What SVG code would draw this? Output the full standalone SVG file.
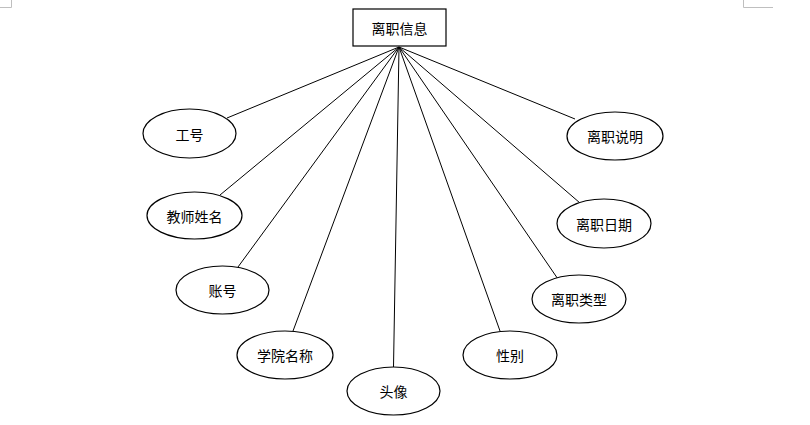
<svg xmlns="http://www.w3.org/2000/svg" width="810" height="425" viewBox="0 0 810 425">
<style>
.node{fill:#fff;stroke:#000;stroke-width:1.2}
.lbl{font-family:"Noto Sans CJK SC","Liberation Sans",sans-serif;font-size:14px;fill:#000;text-anchor:middle;dominant-baseline:central}
.conn line{stroke:#000;stroke-width:1}
.mark{stroke:#bfbfbf;stroke-width:1;fill:none}
</style>
<rect width="810" height="425" fill="#fff"/>
<path class="mark" d="M11.5 0V7.5H0"/>
<path class="mark" d="M743.5 0V7.5H773"/>
<g id="connectors" class="conn">
<line x1="399" y1="47" x2="227" y2="118"/>
<line x1="399" y1="47" x2="220" y2="195"/>
<line x1="399" y1="47" x2="238" y2="267"/>
<line x1="399" y1="47" x2="293" y2="331"/>
<line x1="399" y1="47" x2="393.5" y2="367"/>
<line x1="399" y1="47" x2="500" y2="331"/>
<line x1="399" y1="47" x2="560" y2="282"/>
<line x1="399" y1="47" x2="580" y2="203"/>
<line x1="399" y1="47" x2="575" y2="119"/>
</g>
<g id="n-main"><rect class="node" x="353" y="9" width="93" height="37"/><text class="lbl" x="399.5" y="27.5">离职信息</text></g>
<g id="n-gonghao"><ellipse class="node" cx="189.5" cy="133.5" rx="46.5" ry="24.5"/><text class="lbl" x="189.5" y="133.5">工号</text></g>
<g id="n-xingming"><ellipse class="node" cx="194.5" cy="215.5" rx="47.5" ry="23.5"/><text class="lbl" x="194.5" y="215.5">教师姓名</text></g>
<g id="n-zhanghao"><ellipse class="node" cx="222.5" cy="290" rx="46.5" ry="24"/><text class="lbl" x="222.5" y="290">账号</text></g>
<g id="n-xueyuan"><ellipse class="node" cx="285" cy="355" rx="48" ry="24"/><text class="lbl" x="285" y="355">学院名称</text></g>
<g id="n-touxiang"><ellipse class="node" cx="393.5" cy="391" rx="46.5" ry="24"/><text class="lbl" x="393.5" y="391">头像</text></g>
<g id="n-xingbie"><ellipse class="node" cx="510" cy="355" rx="47" ry="24"/><text class="lbl" x="510" y="355">性别</text></g>
<g id="n-leixing"><ellipse class="node" cx="579" cy="299" rx="47" ry="24"/><text class="lbl" x="579" y="299">离职类型</text></g>
<g id="n-riqi"><ellipse class="node" cx="604" cy="223.5" rx="47" ry="24.5"/><text class="lbl" x="604" y="223.5">离职日期</text></g>
<g id="n-shuoming"><ellipse class="node" cx="615" cy="136" rx="48" ry="24"/><text class="lbl" x="615" y="136">离职说明</text></g>
</svg>
